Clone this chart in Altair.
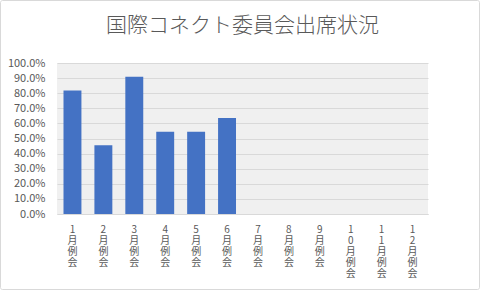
import altair as alt
import pandas as pd

months = ["1月例会", "2月例会", "3月例会", "4月例会", "5月例会", "6月例会",
          "7月例会", "8月例会", "9月例会", "10月例会", "11月例会", "12月例会"]
rates = [0.818, 0.455, 0.909, 0.545, 0.545, 0.636,
         None, None, None, None, None, None]
y_ticks = [i / 10 for i in range(11)]

df = pd.DataFrame({"month": months, "rate": rates})

FONT = "Noto Sans CJK JP"
GRAY = "#595959"

bars = alt.Chart(df).mark_bar(color="#4472C4").encode(
    x=alt.X("month:N", sort=months,
            scale=alt.Scale(paddingInner=0.42, paddingOuter=0.21),
            axis=alt.Axis(title=None, labelAngle=0, labelExpr="split(datum.value, '')",
                          labelBaseline="top", labelLineHeight=11, labelPadding=10,
                          labelFontSize=10, labelColor=GRAY, labelFont=FONT,
                          ticks=False, domainColor="#d9d9d9", grid=False,
                          labelOverlap=False)),
    y=alt.Y("rate:Q", scale=alt.Scale(domain=[0, 1], nice=False),
            axis=alt.Axis(title=None, format=".1%", values=y_ticks,
                          labelFontSize=11, labelColor=GRAY, labelFont=FONT,
                          labelPadding=12, ticks=False, domain=False,
                          gridColor="#d9d9d9", gridWidth=1)),
)

frame = alt.Chart(pd.DataFrame({"k": [0]})).mark_rect(
    filled=False, stroke="#d9d9d9", strokeWidth=1, cornerRadius=2, clip=False
).encode(x=alt.value(-56.5), x2=alt.value(422.5), y=alt.value(-62.5), y2=alt.value(226.5))

chart = alt.layer(bars, frame).properties(
    width=371, height=151,
    title=alt.TitleParams("国際コネクト委員会出席状況", font=FONT, fontSize=21,
                          fontWeight=300, color=GRAY, offset=-36, anchor="middle"),
    autosize=alt.AutoSizeParams(type="none"),
    padding={"left": 57, "top": 63, "right": 53, "bottom": 77},
).configure(background="white").configure_view(fill="#f0f0f0", stroke=None)

chart.save("out.html", embed_options={"renderer": "svg", "actions": False})
